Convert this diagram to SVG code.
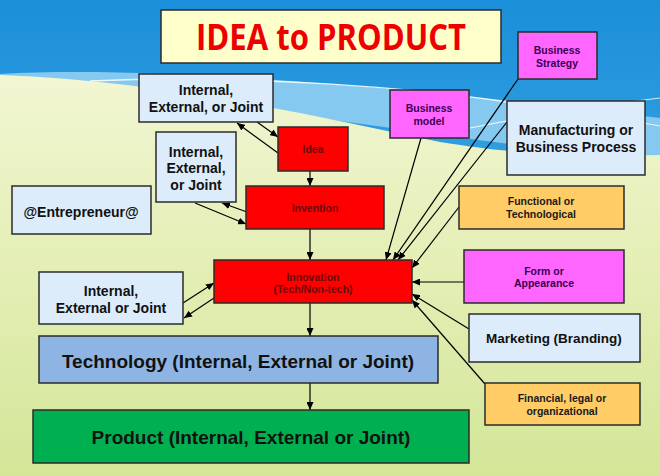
<svg xmlns="http://www.w3.org/2000/svg" width="660" height="476" viewBox="0 0 660 476">
<defs>
<linearGradient id="sky" x1="0" y1="0" x2="0" y2="1">
<stop offset="0" stop-color="#1b8fd9"/>
<stop offset="1" stop-color="#5bbcef"/>
</linearGradient>
<linearGradient id="grass" x1="0" y1="0" x2="0" y2="1">
<stop offset="0" stop-color="#f2f6d2"/>
<stop offset="0.5" stop-color="#e3eeb4"/>
<stop offset="1" stop-color="#d3e698"/>
</linearGradient>
<marker id="ah" viewBox="0 0 8 7" refX="8" refY="3.5" markerWidth="8" markerHeight="7" markerUnits="userSpaceOnUse" orient="auto">
<path d="M0,0 L8,3.5 L0,7 z" fill="#000"/>
</marker>
<style>
.bx{stroke:#2b2b2b;stroke-width:1.5}
.lb{fill:#dcecfa}
.rd{fill:#ff0000}
.mg{fill:#ff66ff}
.og{fill:#ffcc66}
text{font-family:"Liberation Sans",Arial,sans-serif;font-weight:bold;text-anchor:middle}
.t14{font-size:14px;fill:#111}
.t10{font-size:10.5px;fill:#1a1a1a}
.tr{font-size:10.5px;fill:#6a0a0a}
.tp{font-size:10.5px;fill:#3a0050}
.t19{font-size:19px;fill:#111}
.cn{stroke:#000;stroke-width:1.2;fill:none;marker-end:url(#ah)}
</style>
</defs>
<g id="background">
<rect x="0" y="0" width="660" height="476" fill="url(#sky)"/>
<path d="M0,74 C150,66 380,84 660,118 L660,160 C520,150 300,112 0,76 Z" fill="#86c9f0"/>
<path d="M90,81 C250,74 420,88 520,104" stroke="#ffffff" stroke-width="1.5" fill="none" opacity="0.85"/>
<path d="M470,128 C550,112 610,104 660,98" stroke="#ffffff" stroke-width="1.2" fill="none" opacity="0.8"/>
<path d="M600,118 C620,120 640,122 660,126" stroke="#ffffff" stroke-width="1.2" fill="none" opacity="0.8"/>
<path d="M0,75 C150,80 300,112 440,142 C540,158 600,156 660,155 L660,476 L0,476 Z" fill="url(#grass)"/>
</g>
<g id="title">
<rect class="bx" x="161" y="10" width="340" height="53" fill="#ffffcc"/>
<text x="331" y="50" style="font-family:'Open Sans','Noto Sans',sans-serif;font-size:35px;fill:#ee0000" textLength="270" lengthAdjust="spacingAndGlyphs">IDEA to PRODUCT</text>
</g>
<g id="connectors">
<path class="cn" d="M257,122 L278,137"/>
<path class="cn" d="M278,153 L237,123"/>
<path class="cn" d="M310,171 L310,186"/>
<path class="cn" d="M247,212 L222,203"/>
<path class="cn" d="M195,203 L246,224"/>
<path class="cn" d="M310,229 L310,260"/>
<path class="cn" d="M183,303 L214,283"/>
<path class="cn" d="M214,298 L184,318"/>
<path class="cn" d="M310,303 L310,336"/>
<path class="cn" d="M310,383 L310,410"/>
<path class="cn" d="M421,138 L386,260"/>
<path class="cn" d="M518,79 L393,260"/>
<path class="cn" d="M507,122 L398,260"/>
<path class="cn" d="M459,207 L412,268"/>
<path class="cn" d="M464,282 L412,282"/>
<path class="cn" d="M469,329 L412,294"/>
<path class="cn" d="M485,384 L412,300"/>
</g>
<g id="iej-top">
<rect class="bx lb" x="139" y="74" width="134" height="48"/>
<text class="t14" x="206" y="95">Internal,</text>
<text class="t14" x="206" y="112">External, or Joint</text>
</g>
<g id="idea">
<rect class="bx rd" x="278" y="127" width="70" height="44"/>
<text class="tr" x="313" y="153">Idea</text>
</g>
<g id="iej-mid">
<rect class="bx lb" x="156" y="132" width="80" height="70"/>
<text class="t14" x="196" y="157">Internal,</text>
<text class="t14" x="196" y="173">External,</text>
<text class="t14" x="196" y="190">or Joint</text>
</g>
<g id="invention">
<rect class="bx rd" x="246" y="186" width="138" height="43"/>
<text class="tr" x="315" y="212">Invention</text>
</g>
<g id="entrepreneur">
<rect class="bx lb" x="12" y="186" width="139" height="48"/>
<text class="t14" x="81" y="217">@Entrepreneur@</text>
</g>
<g id="innovation">
<rect class="bx rd" x="214" y="260" width="198" height="43"/>
<text class="tr" x="313" y="281">Innovation</text>
<text class="tr" x="313" y="293">(Tech/Non-tech)</text>
</g>
<g id="iej-low">
<rect class="bx lb" x="39" y="272" width="144" height="52"/>
<text class="t14" x="111" y="296">Internal,</text>
<text class="t14" x="111" y="313">External or Joint</text>
</g>
<g id="technology">
<rect class="bx" x="39" y="336" width="399" height="47" fill="#8db4e2"/>
<text class="t19" x="238" y="368">Technology (Internal, External or Joint)</text>
</g>
<g id="product">
<rect class="bx" x="33" y="410" width="436" height="53" fill="#00b050"/>
<text class="t19" x="251" y="444">Product (Internal, External or Joint)</text>
</g>
<g id="business-strategy">
<rect class="bx mg" x="518" y="32" width="79" height="47"/>
<text class="tp" x="557" y="54">Business</text>
<text class="tp" x="557" y="67">Strategy</text>
</g>
<g id="business-model">
<rect class="bx mg" x="390" y="90" width="79" height="48"/>
<text class="tp" x="429" y="112">Business</text>
<text class="tp" x="429" y="125">model</text>
</g>
<g id="manufacturing">
<rect class="bx lb" x="507" y="101" width="138" height="74"/>
<text class="t14" x="576" y="135">Manufacturing or</text>
<text class="t14" x="576" y="152">Business Process</text>
</g>
<g id="functional">
<rect class="bx og" x="459" y="186" width="165" height="43"/>
<text class="t10" x="541" y="205">Functional or</text>
<text class="t10" x="541" y="218">Technological</text>
</g>
<g id="form">
<rect class="bx mg" x="464" y="250" width="160" height="53"/>
<text class="tp" x="544" y="275">Form or</text>
<text class="tp" x="544" y="287">Appearance</text>
</g>
<g id="marketing">
<rect class="bx lb" x="469" y="314" width="171" height="48"/>
<text class="t14" x="554" y="343" style="font-size:13.5px">Marketing (Branding)</text>
</g>
<g id="financial">
<rect class="bx og" x="485" y="383" width="155" height="42"/>
<text class="t10" x="562" y="402">Financial, legal or</text>
<text class="t10" x="562" y="415">organizational</text>
</g>
</svg>
